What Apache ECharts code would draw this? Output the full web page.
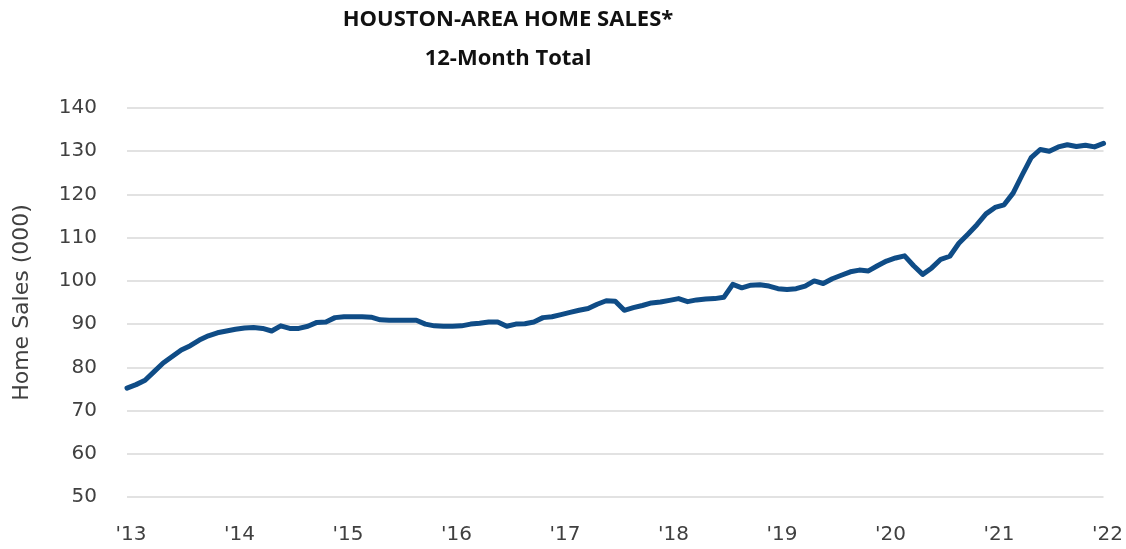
<!DOCTYPE html>
<html>
<head>
<meta charset="utf-8">
<script src="https://cdn.jsdelivr.net/npm/echarts@6/dist/echarts.min.js"></script>
<style>html,body{margin:0;padding:0;background:#fff;}#c{width:1126px;height:549px;}</style>
</head>
<body>
<div id="c"></div>
<script>
// Monthly 12-month total home sales (thousands), Jan 2013 – Jan 2022
const yearLabels = ["'13","'14","'15","'16","'17","'18","'19","'20","'21","'22"];
const sales = [
  75.2, 76.0, 77.0, 79.0, 81.0, 82.5, 84.0, 85.0, 86.3, 87.3, 88.0, 88.4,
  88.8, 89.1, 89.2, 89.0, 88.4, 89.6, 89.0, 89.0, 89.5, 90.4, 90.5, 91.5,
  91.7, 91.7, 91.7, 91.6, 91.0, 90.9, 90.9, 90.9, 90.9, 90.0, 89.6, 89.5,
  89.5, 89.6, 90.0, 90.2, 90.5, 90.5, 89.5, 90.0, 90.1, 90.5, 91.5, 91.7,
  92.2, 92.7, 93.2, 93.6, 94.6, 95.4, 95.3, 93.2, 93.8, 94.3, 94.9, 95.1,
  95.5, 95.9, 95.2, 95.6, 95.8, 95.9, 96.2, 99.2, 98.4, 99.0, 99.1, 98.8,
  98.2, 98.0, 98.2, 98.8, 100.0, 99.4, 100.5, 101.3, 102.1, 102.5, 102.3, 103.5,
  104.6, 105.3, 105.8, 103.5, 101.5, 103.0, 105.0, 105.7, 108.7, 110.8, 113.0, 115.5,
  117.0, 117.6, 120.3, 124.5, 128.5, 130.4, 130.0, 131.0, 131.5, 131.1, 131.4, 131.0,
  131.8
];
const months = sales.map((_, i) => (i % 12 === 0) ? yearLabels[i / 12] : '');

const chart = echarts.init(document.getElementById('c'), null, {renderer: 'canvas'});
chart.setOption({
  animation: false,
  backgroundColor: '#ffffff',
  title: {
    text: 'HOUSTON-AREA HOME SALES*\n12-Month Total',
    left: 503,
    top: -5,
    textAlign: 'center',
    textStyle: {
      fontFamily: 'Open Sans',
      fontWeight: 'bold',
      fontSize: 22,
      color: '#111111',
      lineHeight: 39
    }
  },
  grid: {left: 127, right: 20, top: 108, bottom: 52, containLabel: false},
  xAxis: {
    type: 'category',
    data: months,
    boundaryGap: false,
    axisLine: {show: false},
    axisTick: {show: false},
    axisLabel: {
      interval: 0,
      margin: 28,
      padding: [0, 0, 0, 8],
      fontFamily: 'DejaVu Sans',
      fontSize: 20,
      color: '#404040',
      showMinLabel: true,
      showMaxLabel: true
    },
    splitLine: {show: false}
  },
  yAxis: {
    type: 'value',
    min: 50,
    max: 140,
    interval: 10,
    name: 'Home Sales (000)',
    nameLocation: 'middle',
    nameGap: 94,
    nameRotate: 90,
    nameTextStyle: {fontFamily: 'DejaVu Sans', fontSize: 22, color: '#404040'},
    axisLine: {show: false},
    axisTick: {show: false},
    axisLabel: {margin: 30, fontFamily: 'DejaVu Sans', fontSize: 20, color: '#404040'},
    splitLine: {lineStyle: {color: '#d9d9d9', width: 1.5}}
  },
  series: [{
    type: 'line',
    data: sales,
    showSymbol: false,
    smooth: false,
    lineStyle: {color: '#0f4c86', width: 5, join: 'round', cap: 'round'},
    itemStyle: {color: '#0f4c86'}
  }]
});
</script>
</body>
</html>
